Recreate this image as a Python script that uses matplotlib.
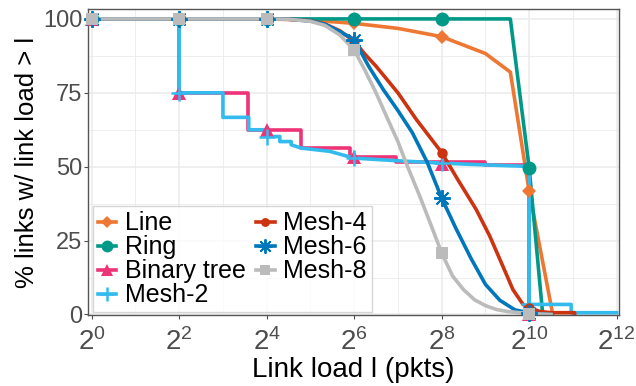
import numpy as np
import matplotlib
matplotlib.use("Agg")
import matplotlib.pyplot as plt
from matplotlib.ticker import FixedLocator

plt.rcParams['font.family'] = ['Liberation Sans', 'DejaVu Sans']
plt.rcParams['mathtext.fontset'] = 'custom'
plt.rcParams['mathtext.rm'] = 'Liberation Sans'

# log2 of link load and % of links with load > l
line_exp = [0, 4, 5, 6, 7, 8, 9, 9.57, 10, 10.54]
line_pct = [100, 100, 99.6, 98.5, 96.8, 94, 88.3, 82, 41.7, 0]

ring_exp = [0, 9.57, 10, 10.31]
ring_pct = [100, 100, 49.6, 0]

btree_exp = [0, 2, 2, 3.57, 3.57, 4.79, 4.79, 5.9, 5.9, 6.96, 6.96, 9, 9, 10, 10]
btree_pct = [100, 100, 75, 75, 62.5, 62.5, 56.3, 56.3, 53.3, 53.3, 51.6, 51.6, 50.6, 50.6, 0]

mesh2_exp = [0, 2, 2, 3, 3, 3.59, 3.59, 4, 4, 4.3, 4.3, 4.56, 4.56, 4.79, 5.44, 6, 7, 8, 9, 10, 10, 10.96, 10.96, 12]
mesh2_pct = [100, 100, 75, 75, 66.7, 66.7, 62.5, 62.5, 60.2, 60.2, 58.5, 58.5, 57.4, 56.3, 55.2, 52.9, 52, 51.2, 50.6, 50.1, 3.4, 3.4, 0.6, 0.6]

mesh4_exp = [0, 4, 4.5, 5, 5.33, 5.67, 6, 6.25, 6.5, 6.75, 7, 7.42, 8, 8.37, 8.79, 9.1, 9.4, 9.63, 9.86, 10, 10.25, 10.5, 11.04, 11.04]
mesh4_pct = [100, 100, 99.9, 99.4, 98.3, 96, 92.5, 88, 84, 79.5, 75, 66, 54.8, 45.6, 35.5, 26.5, 16.3, 8.4, 3.4, 2.3, 1.0, 0.6, 0.6, 0]

mesh6_exp = [0, 4, 4.5, 5, 5.33, 5.67, 6, 6.33, 6.67, 7, 7.33, 7.67, 8, 8.33, 8.67, 9, 9.33, 9.67, 10, 10.5]
mesh6_pct = [100, 100, 99.9, 99.3, 98.2, 95.7, 93, 84, 76, 69, 61.5, 51.5, 39.4, 29, 19, 10.2, 4.8, 1.6, 0.5, 0]

mesh8_exp = [0, 4, 4.5, 5, 5.33, 5.67, 6, 6.25, 6.5, 6.77, 7, 7.18, 7.5, 7.75, 8, 8.25, 8.5, 8.75, 9, 9.25, 9.5, 10, 10.5]
mesh8_pct = [100, 100, 99.9, 99.2, 97.8, 94.6, 89.5, 82.5, 75, 66, 58.5, 51.5, 40, 30.5, 20.8, 13, 8.4, 5, 3.0, 1.7, 1.0, 0.3, 0]

# point markers at 2^0, 2^2, ..., 2^10
marker_exp = [0, 2, 4, 6, 8, 10]
line_mk = [100, 100, 100, 98.5, 94, 41.7]
ring_mk = [100, 100, 100, 100, 100, 49.6]
btree_mk = [100, 75, 62.5, 53.3, 51, 0]
mesh2_mk = [100, 75, 60.2, 52.9, 51.2, 3.4]
mesh4_mk = [100, 100, 100, 92.5, 54.8, 2.3]
mesh6_mk = [100, 100, 100, 93, 39.4, 0.5]
mesh8_mk = [100, 100, 100, 89.5, 20.8, 0.3]

series = [
    ("Line", line_exp, line_pct, line_mk, "#EE7733", "D", 7, 0),
    ("Ring", ring_exp, ring_pct, ring_mk, "#009988", "o", 10, 0),
    ("Binary tree", btree_exp, btree_pct, btree_mk, "#EE3377", "^", 10.5, 0),
    ("Mesh-2", mesh2_exp, mesh2_pct, mesh2_mk, "#33BBEE", "+", 12, 1.8),
    ("Mesh-4", mesh4_exp, mesh4_pct, mesh4_mk, "#CC3311", "o", 7.5, 0),
    ("Mesh-6", mesh6_exp, mesh6_pct, mesh6_mk, "#0077BB", (8, 2, 0), 12, 1.4),
    ("Mesh-8", mesh8_exp, mesh8_pct, mesh8_mk, "#BBBBBB", "s", 9, 0),
]

fig = plt.figure(figsize=(6.36, 3.86), dpi=100)
ax = fig.add_axes([0.138, 0.183, 0.835, 0.794])
ax.set_xscale('log', base=2)

grid_c = '#EBEBEB'
for v in [12.5, 37.5, 62.5, 87.5]:
    ax.axhline(v, color=grid_c, lw=0.6, zorder=0)
for v in [0, 25, 50, 75, 100]:
    ax.axhline(v, color=grid_c, lw=1.1, zorder=0)
for e in range(0, 13):
    ax.axvline(2.0 ** e, color=grid_c, lw=1.1 if e % 2 == 0 else 0.6, zorder=0)

handles = []
marker_x = 2.0 ** np.array(marker_exp)
for name, xe, yp, mk, col, m, ms, mew in series:
    ax.plot(2.0 ** np.array(xe), yp, color=col, lw=2.6, zorder=2)
for name, xe, yp, mk, col, m, ms, mew in series:
    ax.plot(marker_x, mk, linestyle='none', marker=m, markersize=ms,
            color=col, markeredgewidth=mew, zorder=3, clip_on=False)
    h, = ax.plot([], [], color=col, lw=2.6, marker=m, markersize=ms * 0.85,
                 markeredgewidth=mew)
    handles.append(h)

ax.set_xlim(2.0 ** -0.09, 2.0 ** 12.05)
ax.set_ylim(-0.3, 103.4)

xt = [2.0 ** e for e in range(0, 13, 2)]
ax.xaxis.set_major_locator(FixedLocator(xt))
ax.xaxis.set_minor_locator(FixedLocator([]))
ax.set_xticklabels([r'$\mathregular{2^{%d}}$' % e for e in range(0, 13, 2)])
ax.set_yticks([0, 25, 50, 75, 100])
ax.tick_params(axis='both', colors='#4D4D4D', labelsize=17, length=3,
               width=0.8, pad=1)
ax.tick_params(axis='x', labelsize=20, pad=6)

for s in ax.spines.values():
    s.set_color('#555555')
    s.set_linewidth(1.0)

ax.set_xlabel("Link load l (pkts)", fontsize=20, labelpad=1)
ax.set_ylabel("% links w/ link load > l", fontsize=18.5, labelpad=3)

leg = ax.legend(handles, [s[0] for s in series], ncol=2, loc='lower left',
                bbox_to_anchor=(0.009, 0.01), fontsize=18, frameon=True,
                fancybox=False, edgecolor='#CCCCCC', handlelength=0.75,
                handletextpad=0.35, columnspacing=0.4, labelspacing=0.0,
                borderpad=0.2, borderaxespad=0.0)
leg.get_frame().set_linewidth(1.0)

fig.savefig("out.png", dpi=100)
